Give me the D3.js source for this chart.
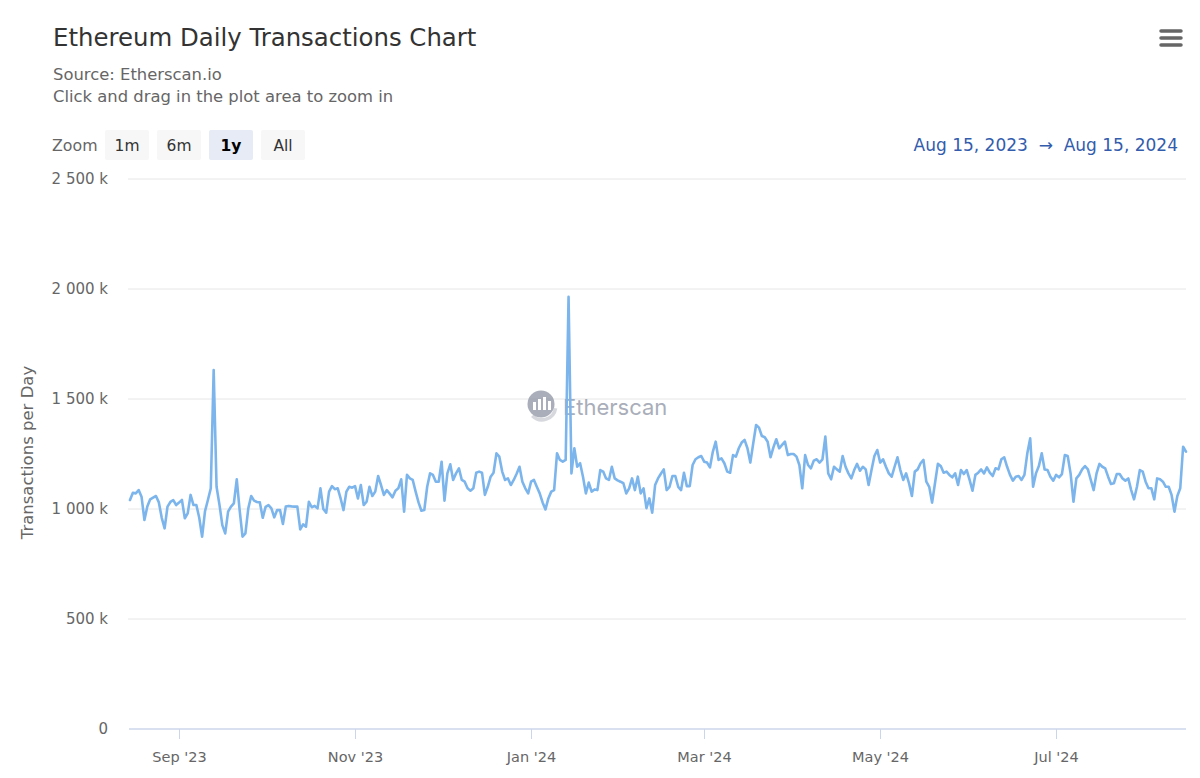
<!DOCTYPE html>
<html>
<head>
<meta charset="utf-8">
<script src="https://cdn.jsdelivr.net/npm/d3@7"></script>
<style>
  html, body { margin: 0; padding: 0; background: #fff; }
  svg { display: block; font-family: "DejaVu Sans", Verdana, sans-serif; }
</style>
</head>
<body>
<svg id="chart" width="1200" height="778"></svg>
<script>
// ---- Data (thousands of transactions per day, from Aug 15, 2023) ----
const startDate = "2023-08-15";
const endDate = "2024-08-15";
const dailyTx = [
  1041,1074,1071,1086,1056,950,1011,1044,1052,1059,1030,960,912,1011,1032,1040,1018,1029,1041,958,
  980,1064,1018,1018,960,874,990,1041,1094,1632,1101,1020,927,889,988,1011,1026,1135,995,874,
  889,1003,1059,1038,1032,1030,960,1010,1018,1003,962,995,995,932,1011,1014,1012,1011,1011,907,
  930,920,1033,1008,1014,1003,1094,1000,983,1079,1104,1090,1094,1048,995,1079,1101,1097,1104,1048,
  1109,1018,1033,1101,1059,1079,1150,1109,1064,1086,1070,1053,1083,1094,1135,988,1155,1139,1132,1079,
  1030,992,995,1101,1162,1155,1124,1124,1215,1038,1162,1203,1132,1162,1185,1132,1124,1094,1083,1094,
  1165,1170,1165,1064,1101,1147,1165,1253,1238,1170,1132,1139,1109,1132,1160,1192,1124,1094,1071,1124,
  1132,1101,1071,1030,998,1048,1079,1086,1253,1223,1215,1223,1965,1162,1276,1192,1208,1147,1071,1120,
  1079,1089,1086,1177,1170,1139,1132,1192,1139,1130,1124,1117,1071,1094,1139,1086,1147,1071,1094,1004,
  1048,983,1109,1139,1160,1180,1086,1101,1150,1150,1101,1086,1165,1104,1104,1200,1226,1235,1241,1215,
  1211,1189,1260,1306,1223,1230,1208,1170,1165,1245,1238,1276,1302,1314,1276,1211,1298,1382,1370,1332,
  1326,1306,1235,1280,1317,1276,1291,1306,1245,1250,1250,1238,1200,1094,1245,1200,1185,1220,1226,1211,
  1226,1329,1162,1135,1192,1180,1170,1241,1192,1162,1139,1177,1205,1174,1192,1180,1109,1177,1241,1268,
  1211,1226,1192,1162,1147,1192,1235,1177,1132,1162,1117,1059,1170,1180,1208,1223,1124,1101,1029,1117,
  1205,1195,1165,1170,1155,1144,1162,1109,1177,1159,1177,1132,1083,1155,1165,1180,1162,1189,1165,1150,
  1185,1180,1226,1235,1192,1155,1129,1147,1150,1132,1155,1253,1321,1101,1162,1195,1253,1180,1177,1147,
  1129,1155,1144,1159,1245,1241,1162,1033,1139,1155,1180,1195,1180,1132,1086,1162,1205,1192,1185,1147,
  1114,1117,1159,1159,1139,1129,1139,1086,1044,1101,1177,1170,1124,1094,1094,1044,1139,1135,1124,1101,
  1101,1064,988,1059,1094,1283,1261
];
const yTicks = [0, 500, 1000, 1500, 2000, 2500];
const xTickDates = ["2023-09-01","2023-11-01","2024-01-01","2024-03-01","2024-05-01","2024-07-01"];
const zoomButtons = ["1m", "6m", "1y", "All"];
const selectedButton = "1y";
const titleText = "Ethereum Daily Transactions Chart";
const subtitleLines = ["Source: Etherscan.io", "Click and drag in the plot area to zoom in"];
const yAxisTitle = "Transactions per Day";
const rangeFrom = "Aug 15, 2023";
const rangeTo = "Aug 15, 2024";

// ---- Build ----
const parse = d3.utcParse("%Y-%m-%d");
const t0 = parse(startDate);
const series = dailyTx.map((v, i) => ({ date: d3.utcDay.offset(t0, i), value: v }));

const svg = d3.select("#chart");
const plot = { left: 130, right: 1186, top: 179, bottom: 729 };

const x = d3.scaleUtc().domain([t0, parse(endDate)]).range([plot.left, plot.right]);
const y = d3.scaleLinear().domain([0, 2500]).range([plot.bottom, plot.top]);

const loc = d3.formatLocale({ decimal: ".", thousands: " ", grouping: [3], currency: ["", ""] });
const fmtY = v => v === 0 ? "0" : loc.format(",")(v) + " k";
const fmtX = d3.utcFormat("%b '%y");

// Title & subtitles
svg.append("text").attr("x", 53).attr("y", 46)
  .attr("font-size", 24.4).attr("fill", "#333").text(titleText);
subtitleLines.forEach((s, i) => {
  svg.append("text").attr("x", 53).attr("y", 80 + i * 22)
    .attr("font-size", 16.4).attr("fill", "#666").text(s);
});

// Hamburger menu
const ham = svg.append("g").attr("stroke", "#666").attr("stroke-width", 3.5).attr("stroke-linecap", "round");
[31, 38, 45].forEach(yy => ham.append("line").attr("x1", 1161).attr("x2", 1181).attr("y1", yy).attr("y2", yy));

// Zoom buttons
svg.append("text").attr("x", 52).attr("y", 151).attr("font-size", 15.8).attr("fill", "#666").text("Zoom");
const btnX = [105, 157, 209, 261];
zoomButtons.forEach((b, i) => {
  const sel = b === selectedButton;
  svg.append("rect").attr("x", btnX[i]).attr("y", 130).attr("width", 44).attr("height", 30)
    .attr("rx", 2).attr("fill", sel ? "#e6ebf5" : "#f7f7f7");
  svg.append("text").attr("x", btnX[i] + 22).attr("y", 151).attr("text-anchor", "middle")
    .attr("font-size", 15.5).attr("font-weight", sel ? "bold" : "normal")
    .attr("fill", sel ? "#000" : "#333").text(b);
});

// Range display
svg.append("text").attr("x", 1178).attr("y", 151).attr("text-anchor", "end")
  .attr("font-size", 17).attr("fill", "#335cad")
  .attr("xml:space", "preserve")
  .text(rangeFrom + "  \u2192  " + rangeTo);

// Gridlines & y labels
const gy = svg.append("g");
yTicks.forEach(v => {
  if (v !== 0) {
    gy.append("line").attr("x1", plot.left - 2).attr("x2", plot.right)
      .attr("y1", y(v)).attr("y2", y(v)).attr("stroke", "#e6e6e6").attr("stroke-width", 1);
  }
  gy.append("text").attr("x", 108).attr("y", y(v) + 5).attr("text-anchor", "end")
    .attr("font-size", 15).attr("fill", "#666").text(fmtY(v));
});

// Y axis title
svg.append("text").attr("transform", `translate(33,${(367 + 538) / 2}) rotate(-90)`)
  .attr("text-anchor", "middle").attr("font-size", 16.5).attr("fill", "#666").text(yAxisTitle);

// Watermark
const wm = svg.append("g").attr("opacity", 0.75);
wm.append("path").attr("d", d3.arc()({ innerRadius: 12, outerRadius: 15.5, startAngle: Math.PI * 0.55, endAngle: Math.PI * 1.25 }))
  .attr("transform", "translate(542,406)").attr("fill", "#c9ccd3");
wm.append("circle").attr("cx", 541).attr("cy", 404).attr("r", 13.5).attr("fill", "#8d93a3");
[[533, 8], [538, 11], [543, 13], [548, 9]].forEach(([bx, h]) => {
  wm.append("rect").attr("x", bx).attr("y", 410 - h).attr("width", 3).attr("height", h).attr("fill", "#fff");
});
wm.append("text").attr("x", 563).attr("y", 415).attr("font-size", 22).attr("font-family", "Inter, 'Open Sans', sans-serif")
  .attr("fill", "#8d93a3").text("Etherscan");

// X axis line & ticks
svg.append("line").attr("x1", plot.left - 1).attr("x2", plot.right).attr("y1", plot.bottom).attr("y2", plot.bottom)
  .attr("stroke", "#ccd6eb").attr("stroke-width", 1.5);
xTickDates.forEach(ds => {
  const d = parse(ds), px = Math.round(x(d)) + 0.5;
  svg.append("line").attr("x1", px).attr("x2", px).attr("y1", plot.bottom).attr("y2", plot.bottom + 10)
    .attr("stroke", "#ccd6eb").attr("stroke-width", 1);
  svg.append("text").attr("x", px).attr("y", 762).attr("text-anchor", "middle")
    .attr("font-size", 14.5).attr("fill", "#666").text(fmtX(d));
});

// Line
const line = d3.line().x(d => x(d.date)).y(d => y(d.value));
svg.append("path").datum(series).attr("d", line)
  .attr("fill", "none").attr("stroke", "#7cb5ec").attr("stroke-width", 2.6)
  .attr("stroke-linejoin", "round").attr("stroke-linecap", "round");
</script>
</body>
</html>
